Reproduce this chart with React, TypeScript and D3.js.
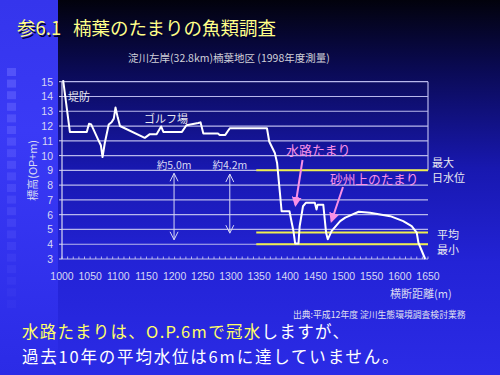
import React from "react";
import * as d3 from "d3";

// 横断測線の地盤高 (距離 m, 標高 OP+m)
const distance = [
  1002, 1014, 1044, 1048, 1052, 1064, 1069, 1072, 1076, 1083, 1088, 1092, 1095, 1099, 1103,
  1147, 1156, 1168, 1176, 1180, 1213, 1221, 1242, 1246, 1251, 1277, 1280, 1290, 1298, 1364,
  1368, 1378, 1382, 1387, 1390, 1404, 1408, 1411, 1414, 1420, 1422, 1428, 1433, 1449, 1452,
  1454, 1464, 1469, 1472, 1479, 1494, 1503, 1527, 1547, 1583, 1606, 1621, 1630, 1633, 1645,
];
const elevation = [
  15.1, 11.6, 11.6, 12.15, 12.1, 11.1, 10.7, 9.9, 10.85, 12.1, 12.25, 12.5, 13.25, 12.57, 12.0,
  11.2, 11.45, 11.45, 11.97, 11.6, 11.6, 12.05, 12.2, 12.25, 11.5, 11.5, 11.4, 11.4, 11.85, 11.85,
  10.95, 10.17, 9.5, 7.47, 6.23, 6.23, 5.45, 4.9, 4.05, 4.05, 5.2, 6.57, 6.8, 6.8, 6.35,
  6.68, 6.68, 4.78, 4.33, 4.9, 5.56, 5.8, 6.2, 6.13, 5.9, 5.56, 5.22, 4.78, 4.1, 3.0,
];

// 水位 (最大日水位, 平均, 最小)
const waterLevelNames = ["最大日水位", "平均", "最小"];
const waterLevels = [9.0, 4.8, 4.0];
const waterFrom = 1345;

const yTicks = [3, 4, 5, 6, 7, 8, 9, 10, 11, 12, 13, 14, 15];
const xTicks = [1000, 1050, 1100, 1150, 1200, 1250, 1300, 1350, 1400, 1450, 1500, 1550, 1600, 1650];

// 比高の矢印
const spanLabels = ["約5.0m", "約4.2m"];
const spanAt = [1199, 1298];
const spanTop = [8.8, 8.75];
const spanBottom = [4.3, 4.75];

const W = 500;
const H = 375;
const JP = "'Noto Sans CJK JP', 'Noto Sans', sans-serif";
const NUM = "'Liberation Sans', Arial, sans-serif";

export default function App() {
  const x = d3.scaleLinear().domain([1000, 1650]).range([62, 428]);
  const y = d3.scaleLinear().domain([3, 15]).range([259, 81.7]);

  const profile = d3
    .line<number>()
    .x((d) => x(d))
    .y((_, i) => y(elevation[i]))(distance);

  const minorTicks = d3.range(1000, 1651, 10);
  const film = d3.range(0, 21);

  const pink = "#f890e6";
  const light = "#d8d8f4";

  return (
    <div style={{ position: "fixed", left: 0, top: 0 }}>
      <svg width={W} height={H} style={{ display: "block" }}>
        <defs>
          <linearGradient id="bg" x1="0" y1="0" x2="0" y2="1">
            <stop offset="0" stopColor="#02020c" />
            <stop offset="0.18" stopColor="#0a0a52" />
            <stop offset="0.45" stopColor="#1818b0" />
            <stop offset="0.7" stopColor="#2323d6" />
            <stop offset="1" stopColor="#2b2be6" />
          </linearGradient>
          <linearGradient id="strip" x1="0" y1="0" x2="0" y2="1">
            <stop offset="0" stopColor="#3535ec" />
            <stop offset="0.35" stopColor="#3a3af6" />
            <stop offset="1" stopColor="#2b2be6" />
          </linearGradient>
          <marker id="pinkHead" viewBox="0 0 10 10" refX="8" refY="5" markerWidth="5" markerHeight="5" orient="auto">
            <path d="M0,0 L10,5 L0,10 z" fill={pink} />
          </marker>
        </defs>

        <rect x={0} y={0} width={W} height={H} fill="url(#bg)" />
        <rect x={0} y={0} width={58} height={H} fill="url(#strip)" />
        {film.map((i) => (
          <rect
            key={i}
            x={7}
            y={68 + i * 11.6}
            width={9}
            height={8}
            fill="#6a6aff"
            opacity={Math.max(0.08, 0.55 - i * 0.024)}
          />
        ))}

        {/* タイトル */}
        <g fontFamily={JP} fontSize={18.5}>
          <text x={18.5} y={36.5} fill="#000030">参6.1</text>
          <text x={17} y={35} fill="#ffff88">参6.1</text>
          <text x={74.5} y={36.5} fill="#000030">楠葉のたまりの魚類調査</text>
          <text x={73} y={35} fill="#ffff88">楠葉のたまりの魚類調査</text>
        </g>
        <text x={128} y={62} fontFamily={JP} fontSize={10.5} fill="#d0d0d8">
          淀川左岸(32.8km)楠葉地区 (1998年度測量)
        </text>

        {/* グリッド */}
        {yTicks.map((t) => (
          <g key={t}>
            <line x1={x(1000)} x2={x(1650)} y1={y(t)} y2={y(t)} stroke="#b8b8ec" strokeWidth={1.2} />
            <line x1={x(1000) - 3} x2={x(1000)} y1={y(t)} y2={y(t)} stroke={light} strokeWidth={1} />
            <text x={53} y={y(t) + 4} textAnchor="end" fontFamily={NUM} fontSize={10.5} fill={light}>
              {t}
            </text>
          </g>
        ))}
        <line x1={x(1000)} x2={x(1000)} y1={y(15)} y2={y(3)} stroke={light} strokeWidth={1.2} />
        <line x1={x(1650)} x2={x(1650)} y1={y(15)} y2={y(9)} stroke="#b8b8ec" strokeWidth={1.2} />
        {minorTicks.map((t) => (
          <line key={t} x1={x(t)} x2={x(t)} y1={y(3)} y2={y(3) - 2.5} stroke={light} strokeWidth={0.8} />
        ))}
        {xTicks.map((t) => (
          <text key={t} x={x(t)} y={280} textAnchor="middle" fontFamily={NUM} fontSize={10.5} fill={light}>
            {t}
          </text>
        ))}
        <text
          transform={`translate(37,${(y(3) + y(15)) / 2}) rotate(-90)`}
          textAnchor="middle"
          fontFamily={JP}
          fontSize={11}
          fill={light}
        >
          標高(OP+m)
        </text>
        <text x={390} y={298} fontFamily={JP} fontSize={11} fill={light}>
          横断距離(m)
        </text>
        <text x={293} y={318} fontFamily={JP} fontSize={8.8} fill="#e0e0f0">
          出典:平成12年度 淀川生態環境調査検討業務
        </text>

        {/* 水位 */}
        {waterLevels.map((v, i) => (
          <line
            key={waterLevelNames[i]}
            x1={x(waterFrom)}
            x2={x(1650)}
            y1={y(v)}
            y2={y(v)}
            stroke="#eeee50"
            strokeWidth={2}
          />
        ))}
        <g fontFamily={JP} fontSize={11} fill="#e8e8f0">
          <text x={432} y={167}>最大</text>
          <text x={432} y={182}>日水位</text>
          <text x={437} y={239}>平均</text>
          <text x={437} y={254}>最小</text>
        </g>

        {/* 地盤線 */}
        <path d={profile ?? ""} fill="none" stroke="#ffffff" strokeWidth={2} strokeLinejoin="round" />

        {/* ラベル */}
        <text x={68} y={101} fontFamily={JP} fontSize={11} fill="#e8e8f0">堤防</text>
        <text x={144} y={123} fontFamily={JP} fontSize={11} fill="#e8e8f0">ゴルフ場</text>

        {spanLabels.map((s, i) => {
          const cx = x(spanAt[i]);
          const t = y(spanTop[i]);
          const b = y(spanBottom[i]);
          return (
            <g key={s} stroke={light} strokeWidth={1} fill="none">
              <line x1={cx} x2={cx} y1={t} y2={b} />
              <path d={`M${cx - 4},${t + 8} L${cx},${t} L${cx + 4},${t + 8}`} />
              <path d={`M${cx - 4},${b - 8} L${cx},${b} L${cx + 4},${b - 8}`} />
              <text x={cx} y={169} textAnchor="middle" fontFamily={JP} fontSize={10.5} fill={light} stroke="none">
                {s}
              </text>
            </g>
          );
        })}

        <text x={286} y={155} fontFamily={JP} fontSize={13} fill={pink}>水路たまり</text>
        <line x1={302.5} y1={160} x2={295.5} y2={205} stroke={pink} strokeWidth={2} markerEnd="url(#pinkHead)" />
        <text x={330} y={184} fontFamily={JP} fontSize={12.7} fill={pink}>砂州上のたまり</text>
        <line x1={343} y1={187} x2={331.5} y2={221} stroke={pink} strokeWidth={2} markerEnd="url(#pinkHead)" />

        {/* 説明文 */}
        <text x={22} y={338} fontFamily={JP} fontSize={16.5} letterSpacing={1.3}>
          <tspan fill="#ffff66">水路たまりは、O.P.6mで冠水</tspan>
          <tspan fill="#ffffff">しますが、</tspan>
        </text>
        <text x={22} y={362.5} fontFamily={JP} fontSize={16.5} letterSpacing={1.8} fill="#ffffff">
          過去10年の平均水位は6mに達していません。
        </text>
      </svg>
    </div>
  );
}
